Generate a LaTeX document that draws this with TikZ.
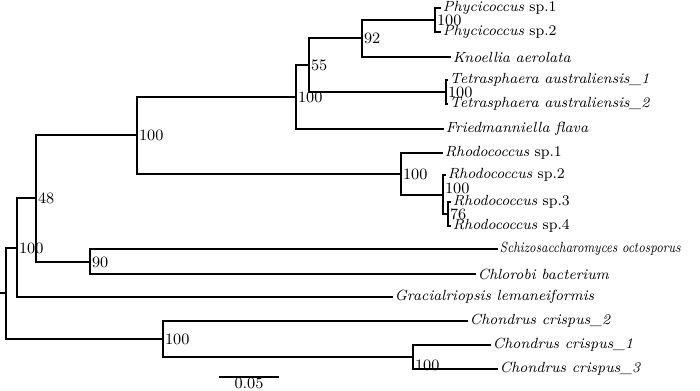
\documentclass[tikz,border=0pt]{standalone}
\usepackage{tikz}
\usetikzlibrary{positioning, calc}
\usepackage{xcolor}

\begin{document}
\begin{tikzpicture}[
    x=0.02cm, y=-0.02cm,
    every node/.style={font=\fontsize{9}{10}\selectfont},
    ramo/.style={line width=1.6pt, line cap=rect},
    folha/.style={anchor=west, inner sep=1.5pt, font=\fontsize{8.4}{9}\selectfont},
    suporte/.style={anchor=west, inner sep=1pt}
]

\useasboundingbox (0,0) rectangle (700,391);

% ------------------------------------------------
% Nós internos
% ------------------------------------------------

\coordinate (base) at (1,293);
\coordinate (no_raiz) at (6,293);
\coordinate (no_a) at (17,248);
\coordinate (no_b) at (36,198);
\coordinate (no_actino) at (137,135);
\coordinate (no_c) at (296,97);
\coordinate (no_d) at (309,65);
\coordinate (no_e) at (362,38);
\coordinate (no_phyc) at (435,20);
\coordinate (no_tetra) at (446,92);
\coordinate (no_rhodo) at (401,174);
\coordinate (no_f) at (443,195);
\coordinate (no_g) at (448,214);
\coordinate (no_h) at (90,262);
\coordinate (no_chon) at (163,339);
\coordinate (no_i) at (413,357);

% ------------------------------------------------
% Folhas
% ------------------------------------------------

\node[folha] (phyc1) at (440,8) {\textit{Phycicoccus} sp.1};
\node[folha] (phyc2) at (440,32) {\textit{Phycicoccus} sp.2};
\node[folha] (knoe) at (450,57) {\textit{Knoellia aerolata}};
\node[folha] (tetra1) at (447,80) {\textit{Tetrasphaera australiensis\_1}};
\node[folha] (tetra2) at (447,104) {\textit{Tetrasphaera australiensis\_2}};
\node[folha] (fried) at (443,129) {\textit{Friedmanniella flava}};
\node[folha] (rhodo1) at (442,153) {\textit{Rhodococcus} sp.1};
\node[folha] (rhodo2) at (445,175) {\textit{Rhodococcus} sp.2};
\node[folha] (rhodo3) at (450,202) {\textit{Rhodococcus} sp.3};
\node[folha] (rhodo4) at (450,226) {\textit{Rhodococcus} sp.4};
\node[folha] (schizo) at (497,249) {\scalebox{0.82}[1]{\textit{Schizosaccharomyces octosporus}}};
\node[folha] (chloro) at (475,274) {\textit{Chlorobi bacterium}};
\node[folha] (grac) at (392,297) {\textit{Gracialriopsis lemaneiformis}};
\node[folha] (chon2) at (467,321) {\textit{Chondrus crispus\_2}};
\node[folha] (chon1) at (490,345) {\textit{Chondrus crispus\_1}};
\node[folha] (chon3) at (497,369) {\textit{Chondrus crispus\_3}};

% ------------------------------------------------
% Ramos
% ------------------------------------------------

\draw[ramo] (base) -- (no_raiz);
\draw[ramo] (no_raiz) |- (no_a);
\draw[ramo] (no_raiz) |- (no_chon);

\draw[ramo] (no_a) |- (no_b);
\draw[ramo] (no_a) |- (grac.west);

\draw[ramo] (no_b) |- (no_actino);
\draw[ramo] (no_b) |- (no_h);

\draw[ramo] (no_actino) |- (no_c);
\draw[ramo] (no_actino) |- (no_rhodo);

\draw[ramo] (no_c) |- (no_d);
\draw[ramo] (no_c) |- (fried.west);

\draw[ramo] (no_d) |- (no_e);
\draw[ramo] (no_d) |- (no_tetra);

\draw[ramo] (no_e) |- (no_phyc);
\draw[ramo] (no_e) |- (knoe.west);

\draw[ramo] (no_phyc) |- (phyc1.west);
\draw[ramo] (no_phyc) |- (phyc2.west);

\draw[ramo] (no_tetra) |- (tetra1.west);
\draw[ramo] (no_tetra) |- (tetra2.west);

\draw[ramo] (no_rhodo) |- (rhodo1.west);
\draw[ramo] (no_rhodo) |- (no_f);
\draw[ramo] (no_f) |- (rhodo2.west);
\draw[ramo] (no_f) |- (no_g);
\draw[ramo] (no_g) |- (rhodo3.west);
\draw[ramo] (no_g) |- (rhodo4.west);

\draw[ramo] (no_h) |- (schizo.west);
\draw[ramo] (no_h) |- (chloro.west);

\draw[ramo] (no_chon) |- (chon2.west);
\draw[ramo] (no_chon) |- (no_i);
\draw[ramo] (no_i) |- (chon1.west);
\draw[ramo] (no_i) |- (chon3.west);

% ------------------------------------------------
% Valores de bootstrap
% ------------------------------------------------

\node[suporte] (s_a) at (no_a) {100};
\node[suporte] (s_b) at (no_b) {48};
\node[suporte] (s_actino) at (no_actino) {100};
\node[suporte] (s_c) at (no_c) {100};
\node[suporte] (s_d) at (no_d) {55};
\node[suporte] (s_e) at (no_e) {92};
\node[suporte] (s_phyc) at (no_phyc) {100};
\node[suporte] (s_tetra) at (no_tetra) {100};
\node[suporte] (s_rhodo) at (no_rhodo) {100};
\node[suporte, yshift=4pt] (s_f) at (no_f) {100};
\node[suporte] (s_g) at (no_g) {76};
\node[suporte] (s_h) at (no_h) {90};
\node[suporte] (s_chon) at (no_chon) {100};
\node[suporte, yshift=-5pt] (s_i) at (no_i) {100};

% ------------------------------------------------
% Escala
% ------------------------------------------------

\coordinate (escala_i) at (220,377);
\coordinate (escala_f) at (278,377);
\draw[ramo] (escala_i) -- (escala_f);
\node[anchor=base] (escala) at (249,389) {0.05};

\end{tikzpicture}
\end{document}
